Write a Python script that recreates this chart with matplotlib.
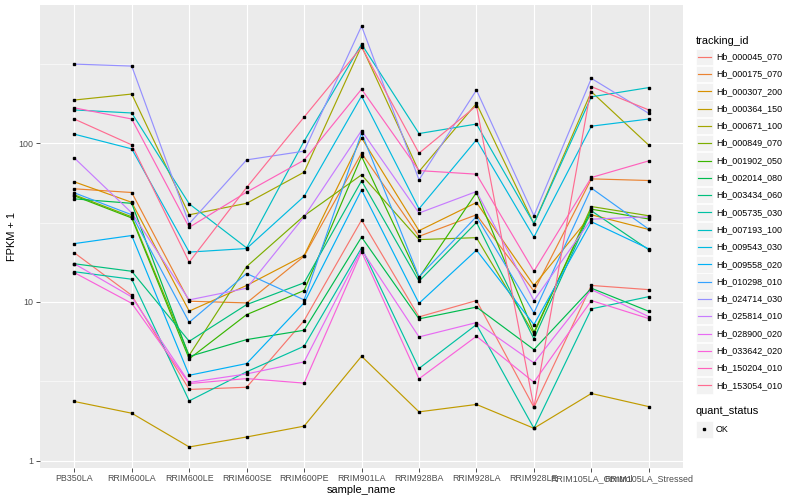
import numpy as np
import matplotlib
matplotlib.use("Agg")
import matplotlib.pyplot as plt
from matplotlib.lines import Line2D
from matplotlib.patches import Rectangle

plt.rcParams['font.family'] = ['Liberation Sans', 'DejaVu Sans']

# samples on the x axis
samples = ["PB350LA", "RRIM600LA", "RRIM600LE", "RRIM600SE", "RRIM600PE",
           "RRIM901LA", "RRIM928BA", "RRIM928LA", "RRIM928LE",
           "RRIM105LA_Control", "RRIM105LA_Stressed"]

# FPKM + 1 per gene
hb_000045_070 = [20.4, 11.0, 2.81, 2.90, 7.63, 32.8, 8.05, 10.2, 2.17, 12.7, 11.95]
hb_000175_070 = [51.6, 48.9, 10.1, 9.86, 19.4, 86.5, 25.9, 35.4, 11.7, 59.6, 58.2]
hb_000307_200 = [57.1, 42.4, 8.75, 12.7, 19.6, 108, 28.1, 42.3, 12.7, 35.4, 28.6]
hb_000364_150 = [2.36, 1.99, 1.22, 1.41, 1.65, 4.55, 2.03, 2.26, 1.60, 2.65, 2.19]
hb_000671_100 = [187, 204, 35.4, 41.8, 65.7, 409, 66.3, 178, 31.1, 211, 97.1]
hb_000849_070 = [47.3, 34.4, 4.61, 16.7, 34.9, 63.2, 24.7, 25.4, 6.29, 39.9, 34.9]
hb_001902_050 = [46.6, 33.8, 4.38, 8.32, 11.8, 82.6, 14.2, 48.9, 6.44, 38.4, 33.3]
hb_002014_080 = [44.6, 41.8, 4.53, 5.79, 6.63, 25.6, 7.82, 9.28, 5.01, 12.2, 8.73]
hb_003434_060 = [17.4, 15.6, 5.65, 9.62, 13.2, 57.9, 13.5, 31.7, 5.85, 37.5, 21.3]
hb_005735_030 = [15.5, 13.9, 2.38, 3.63, 5.26, 21.9, 3.81, 7.2, 1.60, 9.04, 10.8]
hb_007193_100 = [162, 155, 41.5, 21.9, 103, 421, 115, 132, 31.1, 196, 224]
hb_009543_030 = [114, 92.1, 20.6, 21.7, 46.2, 198, 38.6, 105, 25.6, 128, 142]
hb_009558_020 = [23.3, 26.2, 3.45, 4.09, 9.86, 50.8, 9.80, 21.2, 7.2, 32.0, 21.6]
hb_010298_010 = [48.7, 35.4, 7.44, 15.1, 10.3, 116, 14.4, 34.5, 8.53, 52.1, 28.7]
hb_024714_030 = [315, 306, 31.1, 78.5, 89.1, 547, 58.8, 216, 34.9, 256, 154]
hb_025814_010 = [80.8, 36.4, 10.3, 12.2, 34.4, 120, 36.3, 49.6, 10.2, 33.2, 34.4]
hb_028900_020 = [17.4, 10.75, 3.11, 3.52, 4.19, 21.3, 6.02, 7.41, 4.13, 11.95, 8.08]
hb_033642_020 = [15.3, 9.80, 3.06, 3.29, 3.08, 20.7, 3.28, 6.08, 3.12, 10.2, 7.85]
hb_150204_010 = [167, 142, 29.5, 49.2, 78.2, 219, 67.2, 63.8, 15.6, 60.8, 77.4]
hb_153054_010 = [142, 97.6, 17.8, 52.6, 146, 403, 86.5, 172, 2.17, 227, 162]

tracking_ids = ["Hb_000045_070", "Hb_000175_070", "Hb_000307_200", "Hb_000364_150",
                "Hb_000671_100", "Hb_000849_070", "Hb_001902_050", "Hb_002014_080",
                "Hb_003434_060", "Hb_005735_030", "Hb_007193_100", "Hb_009543_030",
                "Hb_009558_020", "Hb_010298_010", "Hb_024714_030", "Hb_025814_010",
                "Hb_028900_020", "Hb_033642_020", "Hb_150204_010", "Hb_153054_010"]
series = [hb_000045_070, hb_000175_070, hb_000307_200, hb_000364_150,
          hb_000671_100, hb_000849_070, hb_001902_050, hb_002014_080,
          hb_003434_060, hb_005735_030, hb_007193_100, hb_009543_030,
          hb_009558_020, hb_010298_010, hb_024714_030, hb_025814_010,
          hb_028900_020, hb_033642_020, hb_150204_010, hb_153054_010]

# ggplot hue palette, 20 levels
colors = ["#F8766D", "#EA8331", "#D89000", "#C09B00", "#A3A500", "#7CAE00",
          "#39B600", "#00BB4E", "#00BF7D", "#00C1A3", "#00BFC4", "#00BAE0",
          "#00B0F6", "#35A2FF", "#9590FF", "#C77CFF", "#E76BF3", "#FA62DB",
          "#FF62BC", "#FF6C91"]

W, H = 800, 500
fig = plt.figure(figsize=(8, 5), dpi=100)
ax = fig.add_axes([39.8 / W, 1 - 468 / H, 643.5 / W, 463 / H])
ax.set_facecolor("#EBEBEB")

x = np.arange(1, len(samples) + 1)
for vals, col in zip(series, colors):
    ax.plot(x, vals, color=col, lw=0.85, zorder=3)
for vals in series:
    ax.plot(x, vals, ls="none", marker="s", ms=2.0, color="black", zorder=4)

ax.set_yscale("log")
allv = np.concatenate([np.asarray(s, float) for s in series])
lo, hi = np.log10(allv.min()), np.log10(allv.max())
pad = 0.05 * (hi - lo)
ax.set_ylim(10 ** (lo - pad), 10 ** (hi + pad))
ax.set_xlim(0.4, len(samples) + 0.6)

ax.set_yticks([1, 10, 100])
ax.set_yticklabels(["1", "10", "100"])
ax.set_yticks([10 ** 0.5, 10 ** 1.5, 10 ** 2.5], minor=True)
ax.set_xticks(x)
ax.set_xticklabels(samples)

ax.grid(True, which="major", color="white", lw=0.8, zorder=0)
ax.grid(True, which="minor", axis="y", color="white", lw=0.4, zorder=0)
ax.set_axisbelow(True)
for s in ax.spines.values():
    s.set_visible(False)
ax.tick_params(which="major", length=3, width=0.6, color="#333333",
               labelsize=6.4, labelcolor="#4D4D4D", pad=1.5)
ax.tick_params(which="minor", length=0)

ax.set_xlabel("sample_name", fontsize=7.9, labelpad=1)
ax.set_ylabel("FPKM + 1", fontsize=7.9, labelpad=1)

# legend, ggplot style, drawn by hand
def fx(px):
    return px / W

def fy(py):
    return 1 - py / H

fig.text(fx(696), fy(40.5), "tracking_id", fontsize=7.9, va="center", ha="left")
step = 17.3
for i, (tid, col) in enumerate(zip(tracking_ids, colors)):
    yc = 56.7 + i * step
    fig.add_artist(Rectangle((fx(696), fy(yc + 8.2)), 16.8 / W, 16.4 / H,
                             transform=fig.transFigure, facecolor="#F2F2F2",
                             edgecolor="white", lw=0.5))
    fig.add_artist(Line2D([fx(698), fx(711)], [fy(yc), fy(yc)],
                          transform=fig.transFigure, color=col, lw=0.85))
    fig.text(fx(716), fy(yc), tid, fontsize=6.4, va="center", ha="left")

fig.text(fx(696), fy(411.5), "quant_status", fontsize=7.9, va="center", ha="left")
yc = 429.3
fig.add_artist(Rectangle((fx(696), fy(yc + 8.2)), 16.8 / W, 16.4 / H,
                         transform=fig.transFigure, facecolor="#F2F2F2",
                         edgecolor="white", lw=0.5))
fig.add_artist(Line2D([fx(704.4)], [fy(yc)], transform=fig.transFigure,
                      ls="none", marker="s", ms=2.0, color="black"))
fig.text(fx(716), fy(yc), "OK", fontsize=6.4, va="center", ha="left")

fig.savefig("out.png", dpi=100)
